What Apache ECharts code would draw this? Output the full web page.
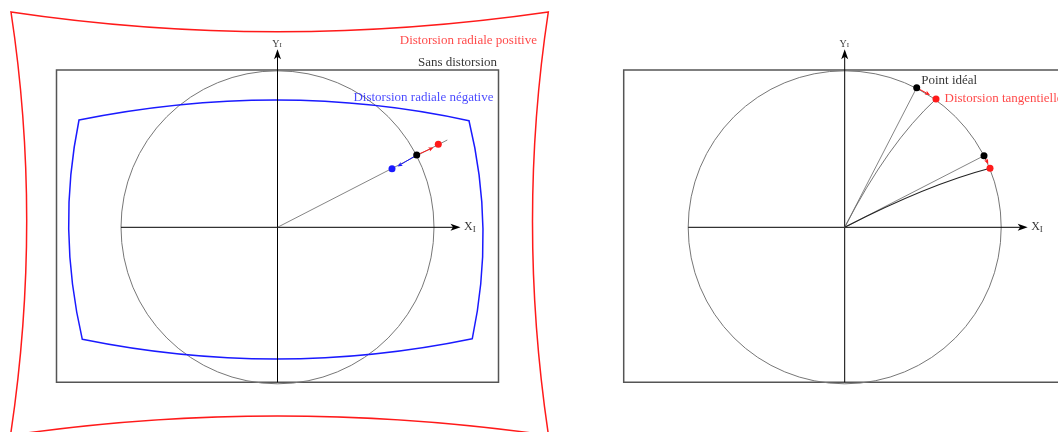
<!DOCTYPE html>
<html><head><meta charset="utf-8">
<script src="https://cdn.jsdelivr.net/npm/echarts@6/dist/echarts.min.js"></script>
<style>html,body{margin:0;padding:0;background:#fff}#c{width:1058px;height:432px}</style>
</head><body><div id="c"></div><script>
// ---- values (origin-centred units, y up) ----
// Left diagram: radial distortion
const frameHalfWidth = 221;
const frameTop = 157.3;
const frameBottom = -155;
const circleRadius = 156.5;
// frame outlines: [TL, top-mid, TR, right-mid, BR, bottom-mid, BL, left-mid]
const positiveFrame = [[-266.5,215.3],[0,195.6],[270.8,215.3],[255,5],[271,-208],[0,-188.7],[-267,-208],[-250.8,5]];
const negativeFrame = [[-198.5,107.3],[0,127.3],[191.5,106.6],[205.5,-2],[194.8,-111.4],[0,-131.7],[-195.2,-112],[-208.8,-2]];
const radialIdeal = [139.2,72.3];
const radialPositive = [160.8,83];
const radialNegative = [114.5,58.6];
const radialRayEnd = [169.8,87.3];
const radialPositiveTip = [156,79.8];
const radialNegativeTip = [120,60.8];
// axes extents
const xAxisFrom = -156.5, xAxisTo = 183;
const yAxisFrom = -155, yAxisTo = 178;
// Right diagram: tangential distortion
const idealPoints = [[72,139.6],[139.3,71.6]];
const tangentialPoints = [[91.3,128.3],[145.3,59]];
const tangentialCurveMids = [[44.4,74],[78.1,36.2]];
const tangentialTips = [[85.3,132.3],[143.6,63.3]];
// texts
const leftTexts = ['Distorsion radiale positive','Sans distorsion','Distorsion radiale négative'];
const leftTextPos = [[260,186.6],[220,165],[216.5,130]];
const rightTexts = ['Point idéal','Distorsion tangentielle'];
const rightTextPos = [[76,146.6],[99.3,129]];
const axisLabelPos = {x:[186,0], y:[0,188.3]};

// ---- rendering ----
const FONT = 'Liberation Serif';
const RED = '#ff1a1a', BLUE = '#1a1aff';
const chart = echarts.init(document.getElementById('c'), null, {renderer:'canvas'});

function quadPath(api, pts, closed){
  const p = pts.map(v => api.coord(v));
  let d = 'M' + p[0][0] + ' ' + p[0][1];
  for (let i = 1; closed ? i < p.length : i + 1 < p.length; i += 2){
    const a = p[i-1], m = p[i], b = p[(i+1) % p.length];
    const c = [2*m[0]-(a[0]+b[0])/2, 2*m[1]-(a[1]+b[1])/2];
    d += ' Q' + c[0] + ' ' + c[1] + ' ' + b[0] + ' ' + b[1];
  }
  if (closed) d += ' Z';
  return d;
}
function pathSeries(idx, pts, closed, color, width){
  return {type:'custom', xAxisIndex:idx, yAxisIndex:idx, silent:true, clip:false, data:[[0,0]],
    renderItem:(p, api) => ({type:'path', shape:{pathData:quadPath(api, pts, closed)},
      style:{fill:'none', stroke:color, lineWidth:width}})};
}
function frameSeries(idx){
  return {type:'custom', xAxisIndex:idx, yAxisIndex:idx, silent:true, clip:false, data:[[0,0]],
    renderItem:(p, api) => {
      const tl = api.coord([-frameHalfWidth, frameTop]);
      const br = api.coord([frameHalfWidth, frameBottom]);
      const c = api.coord([0,0]);
      const r = api.size([circleRadius, 0])[0];
      return {type:'group', children:[
        {type:'rect', shape:{x:tl[0], y:tl[1], width:br[0]-tl[0], height:br[1]-tl[1]},
          style:{fill:'none', stroke:'#555', lineWidth:1.5}},
        {type:'circle', shape:{cx:c[0], cy:c[1], r:r}, style:{fill:'none', stroke:'#777', lineWidth:1}}
      ]};
    }};
}
function arrowSeries(idx, segs, color, width, hl, hw){
  return {type:'custom', xAxisIndex:idx, yAxisIndex:idx, silent:true, clip:false,
    data: segs, encode:{x:[0,2], y:[1,3]},
    renderItem:(p, api) => {
      const a = api.coord([api.value(0), api.value(1)]);
      const b = api.coord([api.value(2), api.value(3)]);
      const dx = b[0]-a[0], dy = b[1]-a[1], L = Math.hypot(dx, dy), ux = dx/L, uy = dy/L;
      const base = [b[0]-ux*hl, b[1]-uy*hl];
      const notch = [b[0]-ux*hl*0.75, b[1]-uy*hl*0.75];
      return {type:'group', children:[
        {type:'line', shape:{x1:a[0], y1:a[1], x2:notch[0], y2:notch[1]}, style:{stroke:color, lineWidth:width}},
        {type:'polygon', shape:{points:[b, [base[0]-uy*hw, base[1]+ux*hw], notch, [base[0]+uy*hw, base[1]-ux*hw]]},
          style:{fill:color}}
      ]};
    }};
}
function raySeries(idx, ends, color, width){
  return {type:'lines', coordinateSystem:'cartesian2d', xAxisIndex:idx, yAxisIndex:idx, silent:true,
    symbol:'none', lineStyle:{color:color, width:width, opacity:1},
    data: ends.map(e => ({coords:[[0,0], e]}))};
}
function dotSeries(idx, pts, color){
  return {type:'scatter', xAxisIndex:idx, yAxisIndex:idx, silent:true, symbolSize:7,
    itemStyle:{color:color, opacity:1}, data:pts, z:5};
}
function textSeries(idx, texts, pos, color, side){
  return {type:'scatter', xAxisIndex:idx, yAxisIndex:idx, silent:true, symbolSize:1,
    itemStyle:{color:'rgba(0,0,0,0)'}, z:6,
    data: texts.map((t, i) => ({name:t, value:pos[i]})),
    label:{show:true, position:side, distance:0, formatter:'{b}', color:color,
      fontFamily:FONT, fontSize:13}};
}
function axisNameSeries(idx){
  return {type:'scatter', xAxisIndex:idx, yAxisIndex:idx, silent:true, symbolSize:1,
    itemStyle:{color:'rgba(0,0,0,0)'}, z:6,
    data:[{name:'X', value:axisLabelPos.x}, {name:'Y', value:axisLabelPos.y}],
    label:{show:true, distance:0, color:'#000', fontFamily:FONT,
      formatter: p => p.name === 'X' ? '{m|X}{s|I}' : '{m2|Y}{s2|I}',
      position: 'right',
      rich:{m:{fontSize:12, fontFamily:FONT, color:'#000'}, s:{fontSize:9, fontFamily:FONT, color:'#000', padding:[5,0,0,0]},
            m2:{fontSize:10, fontFamily:FONT, color:'#000'}, s2:{fontSize:7, fontFamily:FONT, color:'#000', padding:[2,0,0,0]}}},
    labelLayout: p => p.dataIndex === 1 ? {x: p.rect.x - p.labelRect.width/2, align:'left'} : {}};
}

const W = 1058, H = 432;
const leftOrigin = [277.5, 227.3], rightOrigin = [844.7, 227.3];
function xAx(o){ return {type:'value', show:false, min:-o[0], max:W-o[0]}; }
function yAx(o){ return {type:'value', show:false, min:-(H-o[1]), max:o[1]}; }

const axesSegs = [[xAxisFrom,0,xAxisTo,0],[0,yAxisFrom,0,yAxisTo]];

chart.setOption({
  animation:false,
  backgroundColor:'#fff',
  grid:[{left:0,top:0,width:W,height:H},{left:0,top:0,width:W,height:H}],
  xAxis:[xAx(leftOrigin), Object.assign(xAx(rightOrigin), {gridIndex:1})],
  yAxis:[yAx(leftOrigin), Object.assign(yAx(rightOrigin), {gridIndex:1})],
  series:[
    // left diagram
    frameSeries(0),
    pathSeries(0, positiveFrame, true, RED, 1.5),
    pathSeries(0, negativeFrame, true, BLUE, 1.5),
    arrowSeries(0, axesSegs, '#000', 1, 10, 3.5),
    raySeries(0, [radialRayEnd], '#666', 0.8),
    arrowSeries(0, [[radialIdeal[0],radialIdeal[1],radialPositiveTip[0],radialPositiveTip[1]]], RED, 1, 5, 2.2),
    arrowSeries(0, [[radialIdeal[0],radialIdeal[1],radialNegativeTip[0],radialNegativeTip[1]]], BLUE, 1, 5, 2.2),
    dotSeries(0, [radialIdeal], '#000'),
    dotSeries(0, [radialPositive], RED),
    dotSeries(0, [radialNegative], BLUE),
    textSeries(0, [leftTexts[0]], [leftTextPos[0]], RED, 'left'),
    textSeries(0, [leftTexts[1]], [leftTextPos[1]], '#000', 'left'),
    textSeries(0, [leftTexts[2]], [leftTextPos[2]], BLUE, 'left'),
    axisNameSeries(0),
    // right diagram
    frameSeries(1),
    arrowSeries(1, axesSegs, '#000', 1, 10, 3.5),
    raySeries(1, idealPoints, '#666', 0.8),
    pathSeries(1, [[0,0], tangentialCurveMids[0], tangentialPoints[0]], false, '#666', 0.9),
    pathSeries(1, [[0,0], tangentialCurveMids[1], tangentialPoints[1]], false, '#222', 1.1),
    arrowSeries(1, idealPoints.map((p,i) => [p[0],p[1],tangentialTips[i][0],tangentialTips[i][1]]), RED, 1, 5, 2.2),
    dotSeries(1, idealPoints, '#000'),
    dotSeries(1, tangentialPoints, RED),
    textSeries(1, [rightTexts[0]], [rightTextPos[0]], '#000', 'right'),
    textSeries(1, [rightTexts[1]], [rightTextPos[1]], RED, 'right'),
    axisNameSeries(1)
  ]
});
</script></body></html>
